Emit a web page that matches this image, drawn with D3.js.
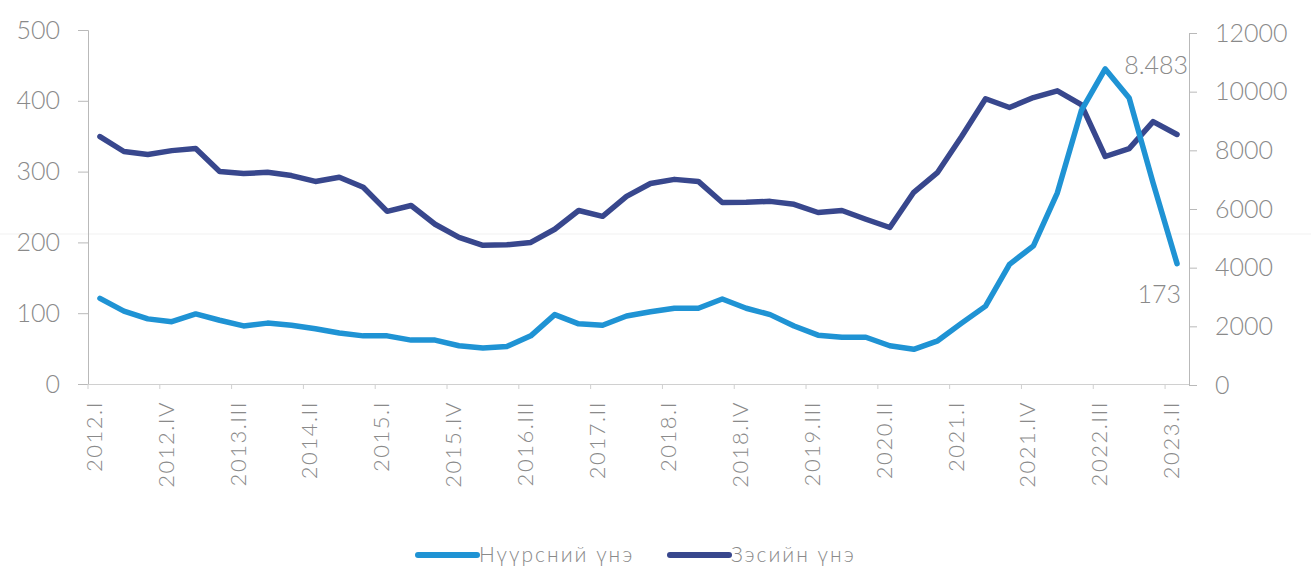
<!DOCTYPE html>
<html>
<head>
<meta charset="utf-8">
<script src="https://cdn.jsdelivr.net/npm/d3@7"></script>
<style>
  html, body { margin: 0; padding: 0; background: #ffffff; }
  svg { display: block; }
  text { font-family: Lato, "Open Sans", "Noto Sans", sans-serif; font-weight: 300; fill: #8a8a8a; }
</style>
</head>
<body>
<div id="chart"></div>
<script>
// ---- Data ----
const quarters = [
  "2012.I","2012.II","2012.III","2012.IV",
  "2013.I","2013.II","2013.III","2013.IV",
  "2014.I","2014.II","2014.III","2014.IV",
  "2015.I","2015.II","2015.III","2015.IV",
  "2016.I","2016.II","2016.III","2016.IV",
  "2017.I","2017.II","2017.III","2017.IV",
  "2018.I","2018.II","2018.III","2018.IV",
  "2019.I","2019.II","2019.III","2019.IV",
  "2020.I","2020.II","2020.III","2020.IV",
  "2021.I","2021.II","2021.III","2021.IV",
  "2022.I","2022.II","2022.III","2022.IV",
  "2023.I","2023.II"
];
// Нүүрсний үнэ (left axis)
const coalPrice = [
  121, 103, 92, 88, 99, 90, 82, 86, 83, 78, 72, 68,
  68, 62, 62, 54, 51, 53, 68, 98, 85, 83, 96, 102,
  107, 107, 120, 107, 98, 82, 69, 66, 66, 54, 49, 61,
  86, 110, 169, 195, 270, 386, 445, 404, 284, 170
];
// Зэсийн үнэ (right axis)
const copperPrice = [
  8470, 7960, 7860, 7990, 8060, 7280, 7210, 7250, 7140, 6940, 7080, 6740,
  5920, 6120, 5480, 5030, 4760, 4780, 4860, 5310, 5950, 5750, 6430, 6870,
  7010, 6940, 6220, 6230, 6260, 6160, 5880, 5950, 5650, 5370, 6570, 7250,
  8470, 9760, 9460, 9800, 10030, 9560, 7790, 8060, 8980, 8540
];
const leftTicks = [0, 100, 200, 300, 400, 500];
const rightTicks = [0, 2000, 4000, 6000, 8000, 10000, 12000];
const xLabelEvery = 3;
const seriesNames = ["Нүүрсний үнэ", "Зэсийн үнэ"];
const annotations = [
  { text: "8.483", index: 42 },
  { text: "173", index: 45 }
];

// ---- Layout ----
const W = 1311, H = 574;
const colors = { coal: "#1f93d4", copper: "#38478d" };
const axisColor = "#b9b9b9";

const svg = d3.select("#chart").append("svg")
  .attr("width", W).attr("height", H);

// faint scan line
svg.append("line")
  .attr("x1", 0).attr("x2", W).attr("y1", 234).attr("y2", 234)
  .attr("stroke", "#f1f1f1").attr("stroke-width", 1);

const x = d3.scaleBand().domain(d3.range(quarters.length)).range([88, 1189]).padding(0);
const cx = i => x(i) + x.bandwidth() / 2;
const yL = d3.scaleLinear().domain([0, 500]).range([384, 30]);
const yR = d3.scaleLinear().domain([0, 12000]).range([385, 33]);

// Left axis
const gL = svg.append("g").attr("transform", "translate(88,0)")
  .call(d3.axisLeft(yL).tickValues(leftTicks).tickFormat(d3.format("d")).tickSize(10).tickPadding(18));
gL.select(".domain").attr("stroke", axisColor).attr("d", "M-10,30.5H0.5V384.5");
gL.selectAll(".tick line").attr("stroke", axisColor);
gL.selectAll(".tick text").attr("font-size", 25).attr("fill", "#8a8a8a")
  .style("font-family", "Lato, 'Open Sans', sans-serif").style("font-weight", 300);

// Right axis
const gR = svg.append("g").attr("transform", "translate(1189,0)")
  .call(d3.axisRight(yR).tickValues(rightTicks).tickFormat(d3.format("d")).tickSize(8).tickPadding(18));
gR.select(".domain").attr("stroke", axisColor).attr("d", "M8,33.5H0.5V385.5H8");
gR.selectAll(".tick line").attr("stroke", axisColor);
gR.selectAll(".tick text").attr("font-size", 25).attr("fill", "#8a8a8a")
  .style("font-family", "Lato, 'Open Sans', sans-serif").style("font-weight", 300);

// X axis
const gX = svg.append("g").attr("transform", "translate(0,384)");
gX.append("line").attr("x1", 88).attr("x2", 1189).attr("y1", 0.5).attr("y2", 0.5)
  .attr("stroke", "#d0d0d0");
const labelIdx = d3.range(0, quarters.length, xLabelEvery);
gX.selectAll("line.tk").data(labelIdx).join("line").attr("class", "tk")
  .attr("x1", d => x(d)).attr("x2", d => x(d)).attr("y1", 0).attr("y2", 5)
  .attr("stroke", "#d0d0d0");
gX.selectAll("text").data(labelIdx).join("text")
  .attr("transform", d => `translate(${cx(d) + 2},17) rotate(-90)`)
  .attr("text-anchor", "end")
  .attr("font-size", 22)
  .attr("fill", "#8a8a8a")
  .attr("letter-spacing", 1.5)
  .text(d => quarters[d]);

// Lines
const lineL = d3.line().x((d, i) => cx(i)).y(d => yL(d));
const lineR = d3.line().x((d, i) => cx(i)).y(d => yR(d));

svg.append("path").datum(copperPrice)
  .attr("fill", "none").attr("stroke", colors.copper).attr("stroke-width", 5.5)
  .attr("stroke-linejoin", "round").attr("stroke-linecap", "round")
  .attr("d", lineR);
svg.append("path").datum(coalPrice)
  .attr("fill", "none").attr("stroke", colors.coal).attr("stroke-width", 5.5)
  .attr("stroke-linejoin", "round").attr("stroke-linecap", "round")
  .attr("d", lineL);

// Annotations
svg.append("text").attr("x", 1188).attr("y", yL(coalPrice[annotations[0].index]) + 5)
  .attr("text-anchor", "end").attr("font-size", 25).attr("fill", "#7f7f7f")
  .text(annotations[0].text);
svg.append("text").attr("x", 1181).attr("y", yL(coalPrice[annotations[1].index]) + 39)
  .attr("text-anchor", "end").attr("font-size", 25).attr("fill", "#7f7f7f")
  .text(annotations[1].text);

// Legend
const legend = [
  { name: seriesNames[0], color: colors.coal, x: 418 },
  { name: seriesNames[1], color: colors.copper, x: 670 }
];
const lg = svg.append("g");
legend.forEach(l => {
  lg.append("line").attr("x1", l.x).attr("x2", l.x + 59).attr("y1", 555).attr("y2", 555)
    .attr("stroke", l.color).attr("stroke-width", 6).attr("stroke-linecap", "round");
  lg.append("text").attr("x", l.x + 61).attr("y", 562).attr("font-size", 21)
    .attr("letter-spacing", 2)
    .attr("fill", "#8a8a8a").text(l.name);
});
</script>
</body>
</html>
